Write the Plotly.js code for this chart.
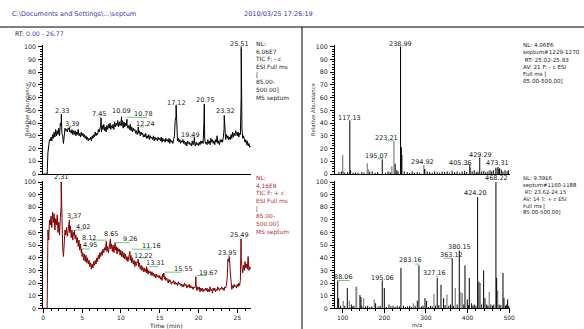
<!DOCTYPE html>
<html>
<head>
<meta charset="utf-8">
<script src="https://cdn.plot.ly/plotly-3.0.1.min.js"></script>
<style>
  html, body { margin: 0; padding: 0; background: #fff; }
  #chart { width: 584px; height: 329px; }
</style>
</head>
<body>
<div id="chart"></div>
<script>
// ---------------- Chromatograms (relative abundance, one value per 0.1 min scan) ----------------
const scanStep = 0.1;
const rtMax = 26.77;
const abundanceTop = 101;   // y-axis range is [0, abundanceTop]

// TIC, negative mode (F: - c ESI Full ms)
const negTic = [
  0,0,0,0,0,0,17,24,27,26,
  29,26,31,28,33,29,35,30,34,31,
  36,30,40,38,32,30,24,31,36,34,
  35,33,36,35,33,34,32,35,31,34,
  31,34,30,33,31,35,30,32,29,33,
  30,32,29,31,28,30,27,29,26,28,
  27,29,26,30,28,31,29,33,30,32,
  31,35,33,36,38,33,38,35,39,34,
  37,33,38,35,39,36,40,35,38,36,
  39,35,41,37,40,38,42,37,41,38,
  40,38,42,36,41,37,40,38,39,36,
  38,35,39,34,37,33,36,34,35,32,
  34,31,33,32,34,30,33,31,32,29,
  31,29,32,28,30,28,31,27,30,28,
  29,27,30,26,29,27,28,26,29,27,
  28,26,29,25,28,26,27,25,28,26,
  27,25,28,24,27,25,26,24,27,30,
  42,45,30,26,28,25,27,24,26,25,
  27,24,26,23,25,22,26,24,25,23,
  24,22,26,23,25,24,22,25,23,24,
  22,25,23,26,24,26,24,40,28,24,
  25,23,27,24,26,23,28,25,27,24,
  26,23,27,25,30,24,26,23,27,25,
  27,25,29,35,30,27,31,28,30,27,
  29,27,31,28,33,29,32,30,34,31,
  30,33,29,32,31,60,36,28,30,27,
  25,27,23,26,22,24,21,22
];
// labelled apexes of the negative TIC
const negApexRt = [2.33, 3.39, 7.45, 10.09, 10.78, 12.24, 17.12, 19.49, 20.75, 23.32, 25.51];
const negApexAb = [47, 37, 44, 45, 43, 37, 54, 29, 55, 46, 100];

// TIC, positive mode (F: + c ESI Full ms)
const posTic = [
  0,0,0,0,0,0,62,54,70,66,
  73,64,76,68,75,62,71,66,74,60,
  68,58,72,80,66,48,41,55,62,58,
  64,57,62,64,60,65,56,62,54,60,
  58,55,58,52,56,49,54,46,51,44,
  41,44,38,43,37,42,36,40,35,38,
  33,36,31,35,32,37,34,38,35,40,
  37,42,39,44,41,45,42,47,44,48,
  46,50,45,49,44,48,51,47,51,45,
  50,44,49,46,49,43,48,45,47,42,
  46,41,45,40,44,39,43,38,41,37,
  40,42,38,42,36,40,35,38,33,37,
  34,37,36,33,36,31,34,30,33,29,
  32,29,31,28,31,27,30,28,29,26,
  29,26,28,25,27,24,27,25,26,24,
  26,23,25,22,27,25,23,25,22,24,
  22,20,23,21,22,19,21,20,22,19,
  21,19,20,18,21,19,20,18,19,17,
  19,17,20,18,19,16,18,17,19,16,
  18,16,17,15,17,16,17,18,14,17,
  15,17,13,16,14,16,13,15,14,16,
  14,16,13,15,13,17,14,15,12,16,
  14,16,13,15,14,17,15,14,16,15,
  17,15,16,14,17,16,18,24,39,37,
  40,28,17,15,18,16,19,17,18,16,
  19,17,20,18,22,40,33,28,34,30,
  37,32,35,31,41,30,33,31
];
const posApexRt = [2.31, 3.37, 4.02, 4.95, 8.12, 8.65, 9.26, 11.16, 12.22, 13.31, 15.55, 19.67, 23.95, 25.49];
const posApexAb = [100, 70, 62, 47, 53, 55, 52, 45, 39, 33, 28, 25, 41, 55];

// ---------------- Averaged spectra (m/z, relative abundance) ----------------
// septum#1229-1270, RT 25.02-25.83, negative mode
const negMz = [91, 97, 105, 112, 117.13, 119, 125, 131, 137, 146, 151, 165, 171, 178, 184, 195.07, 203, 209, 214, 226, 230, 233, 238.99, 240.98, 248, 255, 261, 267, 272, 279, 285, 297, 303, 309, 315, 321, 327, 333, 339, 345, 351, 357, 363, 369, 375, 381, 387, 393, 398, 405.36, 411, 416, 421, 425, 429.29, 434, 439, 444, 449, 454, 458, 462, 468, 473.31, 477, 481, 485, 490, 495, 498];
const negAb = [1.5, 2, 1, 1.5, 42, 3, 1, 1.2, 1, 1.5, 1, 1.5, 2, 1, 1.5, 11.5, 1, 2, 1.5, 8, 3, 2, 100, 21, 2, 1.5, 1, 2, 1, 1.5, 1, 4, 2, 1.5, 1, 2, 1.5, 1, 2, 1.5, 2, 1, 2.5, 1.5, 2, 1, 2, 2.5, 1.5, 7, 2, 3, 1.5, 2, 13, 2, 2.5, 1.5, 2, 3, 2, 3, 5, 5.5, 4.5, 3.5, 2, 3, 2, 3];
const negMzGrey = [100, 102, 159, 161, 163, 218, 223.21, 243, 294.92, 296.9, 407, 471, 475];
const negAbGrey = [15, 2, 8.5, 4, 3, 6, 26, 15, 7, 4, 5, 4.5, 4];

// septum#1160-1188, RT 23.62-24.15, positive mode
const posMz = [88.06, 90.3, 95, 105, 111.1, 120.7, 123, 127, 141.5, 143.9, 146, 155, 160, 165, 170, 179.1, 185, 190, 195.06, 200, 205, 211.2, 216, 221, 226, 231, 236, 240, 246, 251, 256, 261, 265, 274, 279.3, 283.16, 289, 293, 297.7, 301.7, 306, 311, 315, 323, 327.16, 331, 336.2, 342.5, 346, 355, 359, 363.12, 366, 375, 380.15, 391, 393.8, 399.4, 402, 404.2, 409.8, 413, 416, 420, 424.20, 427.4, 434, 438.6, 441.8, 446, 449, 456, 460, 463, 468.22, 469.9, 476, 480, 485.1, 487.5, 491, 494, 496.3, 499];
const posAb = [22, 8, 2, 2, 16, 3, 1.5, 2, 10.5, 9, 2, 1.5, 2, 1, 1.5, 4, 1.5, 2, 22, 16, 1, 3, 1.5, 2, 1, 2, 1.5, 32, 2, 1, 1.5, 2, 1, 2, 6, 34, 1.5, 2, 8, 6, 1, 2, 1.5, 2, 24, 2.5, 18.6, 8, 2.5, 2, 3, 39.6, 2, 3, 45.8, 3, 34, 7, 2.5, 24, 4, 2, 3, 2, 88, 21, 3, 30, 8, 3, 2, 3, 2, 3, 100, 24, 3, 2.5, 28, 8, 2, 3, 7, 2];
const posMzGrey = [101.4, 116, 132, 133.5, 150.3, 175.9, 269.7, 319.3, 350.5, 370.6, 384.2, 387.4, 430.6, 452.2, 472.3];
const posAbGrey = [6, 6, 17, 17, 8, 7, 4, 11.5, 11, 16, 13, 12, 20, 13, 14];

// ---------------- Peak label placement (label text = peak value) ----------------
const negLabelX = [2.37, 3.66, 7.22, 10.1, 12.9, 13.2, 17.2, 19.03, 20.92, 23.5, 25.34];
const negLabelY = [49.5, 39, 47, 49.5, 47, 39, 56, 31, 58, 49.5, 102];
const negFlagFrom = [null, 3.2, 7.2, null, 10.74, 12.4, null, 18.99, null, null, 25.42];
const negFlagTo   = [null, 3.66, 7.45, null, 13.32, 13.0, null, 19.55, null, null, 25.6];
const negFlagAt   = [null, 37, 44.5, null, 44.5, 37, null, 29, null, null, 99];

const posLabelX = [2.28, 3.96, 5.16, 6.02, 5.93, 8.72, 11.17, 13.96, 12.9, 14.4, 18.04, 21.27, 23.76, 25.34];
const posLabelY = [104, 73, 64, 50, 55.5, 59, 55, 49, 41.5, 35.6, 31, 28, 44, 58];
const posFlagFrom = [null, 3.44, 4.08, 4.95, 6.15, null, 9.24, 11.39, 12.37, 13.66, 15.68, 19.76, 23.78, 25.3];
const posFlagTo   = [null, 3.96, 5.16, 6.02, 8.16, null, 11.17, 13.96, 13.32, 14.82, 17.83, 21.13, 24.0, 25.5];
const posFlagAt   = [null, 71, 62, 47, 54, null, 52, 46.8, 40, 33, 28.6, 26, 42, 56];

const negSpecLabels = [238.99, 117.13, 223.21, 195.07, 294.92, 405.36, 429.29, 473.31];
const negSpecLabelX = [238, 117.5, 205, 182, 292, 383, 430, 472];
const negSpecLabelY = [102, 44, 28, 14, 9.7, 9, 15, 8.5];
const negSpecFlagFrom = [null, 115.5, 205, 183.5, null, 390, null, null];
const negSpecFlagTo   = [null, 119.5, 223.21, 195.07, null, 405.36, null, null];
const negSpecFlagAt   = [null, 42, 26, 12, null, 7.5, null, null];

const posSpecLabels = [468.22, 424.20, 380.15, 363.12, 283.16, 327.16, 195.06, 88.06];
const posSpecLabelX = [470, 420.2, 380.3, 362, 264, 320, 195.2, 101.5];
const posSpecLabelY = [103.5, 91.6, 48.7, 42, 38, 27.6, 24, 24.4];
const posSpecFlagFrom = [null, null, null, 342, 274, 324, null, 87];
const posSpecFlagTo   = [null, null, null, 363.12, 284, 329, null, 117];
const posSpecFlagAt   = [null, null, null, 39.6, 35, 25, null, 22];

// ---------------- helpers ----------------
function chromatogram(values, apexRt, apexAb) {
  const pts = values.map((v, i) => [Math.round(i * scanStep * 100) / 100, v]);
  apexRt.forEach((t, k) => pts.push([t, apexAb[k]]));
  pts.sort((a, b) => a[0] - b[0]);
  return { x: pts.map(p => p[0]), y: pts.map(p => p[1]) };
}
function sticks(mz, ab) {
  const x = [], y = [];
  mz.forEach((m, i) => { x.push(m, m, null); y.push(0, ab[i], null); });
  return { x, y };
}
function flags(from, to, at) {
  const x = [], y = [];
  from.forEach((f, i) => { if (f !== null) { x.push(f, to[i], null); y.push(at[i], at[i], null); } });
  return { x, y };
}
const FONT = 'DejaVu Sans, Arial, sans-serif';
// labels may sit above the top of the y range, so they are placed on the
// axis domain (fraction of the [0, abundanceTop] span) instead of data y
function labels(values, lx, ly, xref, yaxisId) {
  return values.map((v, i) => ({
    xref, yref: yaxisId + ' domain', x: lx[i], y: ly[i] / abundanceTop, text: v.toFixed(2), showarrow: false,
    xanchor: 'center', yanchor: 'middle', font: { family: FONT, size: 6.5, color: '#222' }
  }));
}

const negTrace = chromatogram(negTic, negApexRt, negApexAb);
const posTrace = chromatogram(posTic, posApexRt, posApexAb);
const green = '#72c872';

const traces = [
  { x: negTrace.x, y: negTrace.y, xaxis: 'x', yaxis: 'y', type: 'scatter', mode: 'lines',
    line: { color: '#000', width: 1 }, hoverinfo: 'skip' },
  Object.assign({ xaxis: 'x', yaxis: 'y', type: 'scatter', mode: 'lines', line: { color: green, width: 1 } },
    flags(negFlagFrom, negFlagTo, negFlagAt)),
  { x: posTrace.x, y: posTrace.y, xaxis: 'x2', yaxis: 'y2', type: 'scatter', mode: 'lines',
    line: { color: '#800000', width: 1 }, hoverinfo: 'skip' },
  Object.assign({ xaxis: 'x2', yaxis: 'y2', type: 'scatter', mode: 'lines', line: { color: green, width: 1 } },
    flags(posFlagFrom, posFlagTo, posFlagAt)),
  Object.assign({ xaxis: 'x3', yaxis: 'y3', type: 'scatter', mode: 'lines', line: { color: '#8a8a8a', width: 1.3 } },
    sticks(negMzGrey, negAbGrey)),
  Object.assign({ xaxis: 'x3', yaxis: 'y3', type: 'scatter', mode: 'lines', line: { color: '#000', width: 1 } },
    sticks(negMz, negAb)),
  Object.assign({ xaxis: 'x3', yaxis: 'y3', type: 'scatter', mode: 'lines', line: { color: green, width: 1 } },
    flags(negSpecFlagFrom, negSpecFlagTo, negSpecFlagAt)),
  Object.assign({ xaxis: 'x4', yaxis: 'y4', type: 'scatter', mode: 'lines', line: { color: '#8a8a8a', width: 1.3 } },
    sticks(posMzGrey, posAbGrey)),
  Object.assign({ xaxis: 'x4', yaxis: 'y4', type: 'scatter', mode: 'lines', line: { color: '#000', width: 1 } },
    sticks(posMz, posAb)),
  Object.assign({ xaxis: 'x4', yaxis: 'y4', type: 'scatter', mode: 'lines', line: { color: green, width: 1 } },
    flags(posSpecFlagFrom, posSpecFlagTo, posSpecFlagAt))
];

const tickFont = { family: FONT, size: 6.3, color: '#222' };
function yAxis(domain, anchor) {
  return {
    domain, anchor, range: [0, abundanceTop], tick0: 0, dtick: 10, ticks: 'outside', ticklen: 4,
    tickwidth: 1, tickcolor: '#000', showline: true, linecolor: '#000', linewidth: 1,
    showgrid: false, zeroline: false, tickfont: tickFont, ticklabelstandoff: 1,
    minor: { dtick: 2, ticks: 'outside', ticklen: 2, tickcolor: '#000', tickwidth: 1, showgrid: false }
  };
}
function xAxis(domain, anchor, range, opts) {
  return Object.assign({
    domain, anchor, range, showline: true, linecolor: '#000', linewidth: 1,
    showgrid: false, zeroline: false, ticks: '', showticklabels: false,
    tickfont: { family: FONT, size: 6, color: '#222' }
  }, opts || {});
}
const xLeft = [0.0741, 0.4298], xRight = [0.5736, 0.8733];
const yTop = [0.4711, 0.862], yBottom = [0.0629, 0.4506];
const mzRange = [81.5, 502];

const textBlock = (x, y, text, color, size) => ({
  xref: 'paper', yref: 'paper', x, y, xanchor: 'left', yanchor: 'top', align: 'left',
  showarrow: false, text, font: { family: FONT, size, color }
});

const annotations = [
  { xref: 'paper', yref: 'paper', x: 10 / 584, y: 0.9574, xanchor: 'left', yanchor: 'middle', showarrow: false,
    text: 'C:\\Documents and Settings\\...\\septum', font: { family: FONT, size: 6.5, color: '#3a3aa8' } },
  { xref: 'paper', yref: 'paper', x: 242 / 584, y: 0.9574, xanchor: 'left', yanchor: 'middle', showarrow: false,
    text: '2010/03/25 17:26:19', font: { family: FONT, size: 6.5, color: '#3a3aa8' } },
  { xref: 'paper', yref: 'paper', x: 13 / 584, y: (329 - 34) / 329, xanchor: 'left', yanchor: 'middle', showarrow: false,
    text: 'RT: <span style="color:#3a3aa8">0.00 - 26.77</span>', font: { family: FONT, size: 6.2, color: '#222' } },
  textBlock(253 / 584, (329 - 38.5) / 329,
    'NL:<br>6.06E7<br>TIC F: - c<br>ESI Full ms<br>[<br>85.00-<br>500.00]<br>MS septum', '#222', 5.9),
  textBlock(253 / 584, (329 - 172.5) / 329,
    'NL:<br>4.16E8<br>TIC F: + c<br>ESI Full ms<br>[<br>85.00-<br>500.00]<br>MS septum', '#a83232', 5.9),
  textBlock(521 / 584, (329 - 39.5) / 329,
    'NL: 4.06E6<br>septum#1229-1270<br>\u00a0RT: 25.02-25.83<br>AV: 21 F: - c ESI<br>Full ms [<br>85.00-500.00]', '#222', 5.6),
  textBlock(521 / 584, (329 - 172.5) / 329,
    'NL: 9.39E6<br>septum#1160-1188<br>\u00a0RT: 23.62-24.15<br>AV: 14 T: + c ESI<br>Full ms [<br>85.00-500.00]', '#222', 5.3),
  { xref: 'paper', yref: 'paper', x: 22 / 584, y: (329 - 110) / 329, textangle: -90, showarrow: false,
    text: 'Relative Abundance', font: { family: FONT, size: 5.3, color: '#333' } },
  { xref: 'paper', yref: 'paper', x: 313 / 584, y: (329 - 110) / 329, textangle: -90, showarrow: false,
    text: 'Relative Abundance', font: { family: FONT, size: 5.3, color: '#333' } },
  { xref: 'paper', yref: 'paper', x: 147 / 584, y: 4 / 329, yanchor: 'middle', showarrow: false,
    text: 'Time (min)', font: { family: FONT, size: 6, color: '#222' } },
  { xref: 'paper', yref: 'paper', x: 424 / 584, y: 4.5 / 329, yanchor: 'middle', showarrow: false,
    text: 'm/z', font: { family: FONT, size: 5.5, color: '#222' } }
].concat(
  labels(negApexRt, negLabelX, negLabelY, 'x', 'y'),
  labels(posApexRt, posLabelX, posLabelY, 'x2', 'y2'),
  labels(negSpecLabels, negSpecLabelX, negSpecLabelY, 'x3', 'y3'),
  labels(posSpecLabels, posSpecLabelX, posSpecLabelY, 'x4', 'y4')
);

const layout = {
  width: 584, height: 329, margin: { l: 0, r: 0, t: 0, b: 0 },
  paper_bgcolor: '#fff', plot_bgcolor: '#fff', showlegend: false,
  xaxis: xAxis(xLeft, 'y', [0, rtMax]),
  yaxis: yAxis(yTop, 'x'),
  xaxis2: xAxis(xLeft, 'y2', [0, rtMax], {
    ticks: 'outside', ticklen: 3.5, tickcolor: '#000', tick0: 0, dtick: 5, showticklabels: true,
    ticklabelstandoff: 0,
    minor: { dtick: 1, ticks: 'outside', ticklen: 2, tickcolor: '#000' }
  }),
  yaxis2: yAxis(yBottom, 'x2'),
  xaxis3: xAxis(xRight, 'y3', mzRange),
  yaxis3: yAxis(yTop, 'x3'),
  xaxis4: xAxis(xRight, 'y4', mzRange, {
    ticks: 'outside', ticklen: 3.5, tickcolor: '#000', tick0: 0, dtick: 100, showticklabels: true,
    ticklabelstandoff: 0,
    minor: { dtick: 20, ticks: 'outside', ticklen: 2, tickcolor: '#000' }
  }),
  yaxis4: yAxis(yBottom, 'x4'),
  shapes: [
    { type: 'line', xref: 'paper', yref: 'paper', x0: 0, x1: 1, y0: (329 - 27) / 329, y1: (329 - 27) / 329,
      line: { color: '#000', width: 1 } },
    { type: 'line', xref: 'paper', yref: 'paper', x0: 302 / 584, x1: 302 / 584, y0: 0, y1: (329 - 27) / 329,
      line: { color: '#000', width: 1 } }
  ],
  annotations
};

Plotly.newPlot('chart', traces, layout, { staticPlot: true, displayModeBar: false });
</script>
</body>
</html>
